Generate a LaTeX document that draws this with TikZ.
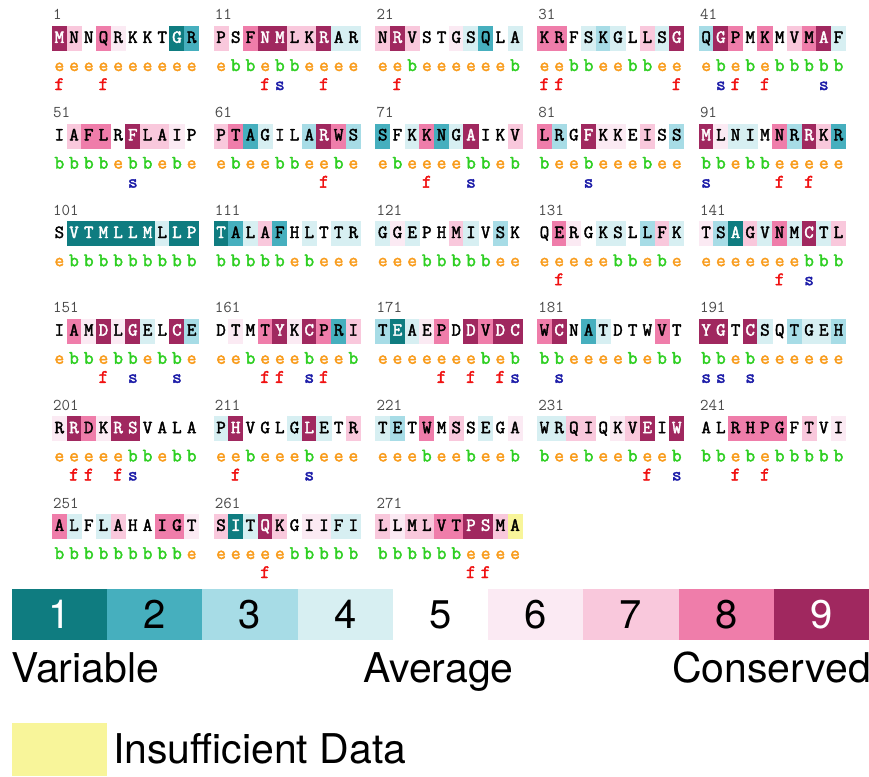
\documentclass[tikz,border=0pt]{standalone}
\usepackage{fontspec}
\usepackage{graphicx}
\newfontfamily\legendfont{TeX Gyre Heros}
\newfontfamily\seqfont{Latin Modern Mono}[FakeBold=2.2]
\newfontfamily\numfont{Latin Modern Mono}

% conservation grades (1 = variable ... 9 = conserved), 0 = insufficient data
\definecolor{g0}{HTML}{F8F59A}
\definecolor{g1}{HTML}{0F7C80}
\definecolor{g2}{HTML}{46AFBE}
\definecolor{g3}{HTML}{A7DCE6}
\definecolor{g4}{HTML}{D7EFF2}
\definecolor{g5}{HTML}{FFFFFF}
\definecolor{g6}{HTML}{FBEAF3}
\definecolor{g7}{HTML}{F9C8DC}
\definecolor{g8}{HTML}{EF7DAA}
\definecolor{g9}{HTML}{A0285F}
\definecolor{sse}{HTML}{F99C1C}
\definecolor{ssb}{HTML}{2ECF22}
\definecolor{fcol}{HTML}{F01010}
\definecolor{scol}{HTML}{1C1CA8}
\definecolor{numgray}{HTML}{4A4A4A}

\tikzset{
  resletter/.style={font=\seqfont\fontsize{18.5}{18.5}\selectfont, inner sep=0pt, anchor=base},
  ssletter/.style={font=\seqfont\fontsize{19}{19}\selectfont, inner sep=0pt, anchor=base},
  fsletter/.style={font=\seqfont\fontsize{19}{19}\selectfont, inner sep=0pt, anchor=base},
  blocknum/.style={font=\numfont\fontsize{16.5}{16.5}\selectfont, text=numgray, inner sep=0pt, anchor=base west},
  legendtext/.style={font=\legendfont\fontsize{41}{41}\selectfont, inner sep=0pt},
  legenddigit/.style={font=\legendfont\fontsize{40}{40}\selectfont, inner sep=0pt, anchor=base},
}

% split the first character off a string macro
\newcount\rj
\def\peel#1#2\stop{\def\firstc{#1}\def\restc{#2}}
\def\takechar#1#2{\expandafter\peel#1\stop\let#2\firstc\let#1\restc}

% one residue: grade box, letter, exposure letter, function/structure mark
\def\drawres{%
  \if\cB5\else
    \fill[g\cB] (\rx-0.2,\by) rectangle (\rx+14.9,\by+25);%
  \fi
  \if\cB9\def\tc{white}\else\if\cB1\def\tc{white}\else\def\tc{black}\fi\fi
  \node[resletter,text=\tc] (r\rn) at (\rx+7.35,\by+16.8) {\cA};%
  \if\cC e\def\ec{sse}\else\def\ec{ssb}\fi
  \node[ssletter,text=\ec] (s\rn) at (\rx+7.35,\by+45) {\cC};%
  \if\cD f\node[fsletter,text=fcol] (f\rn) at (\rx+7.35,\by+64) {f};\fi
  \if\cD s\node[fsletter,text=scol] (f\rn) at (\rx+7.35,\by+64) {s};\fi
}

% a block of ten residues: column, row, first number, residues, grades, exposure, marks
\def\seqblock#1#2#3#4#5#6#7{%
  \def\sA{#4}\def\sB{#5}\def\sC{#6}\def\sD{#7}%
  \pgfmathsetmacro\bx{52+161.7*#1}%
  \pgfmathsetmacro\by{26+97.6*#2}%
  \node[blocknum] (n#3) at (\bx+1,\by-6) {#3};%
  \rj=0
  \loop
    \takechar\sA\cA\takechar\sB\cB\takechar\sC\cC\takechar\sD\cD
    \pgfmathsetmacro\rx{\bx+14.7*\the\rj}%
    \pgfmathtruncatemacro\rn{#3+\the\rj}%
    \drawres
    \advance\rj by 1
  \ifnum\rj<10 \repeat
}

\begin{document}
\begin{tikzpicture}[x=1pt,y=-1pt]
\useasboundingbox (0,0) rectangle (869,776);
\fill[white] (0,0) rectangle (869,776);

\seqblock{0}{0}{1}{MNNQRKKTGR}{9758655512}{eeeeeeeeee}{f..f......}
\seqblock{1}{0}{11}{PSFNMLKRAR}{7589977944}{ebbebbeeee}{...fs..f..}
\seqblock{2}{0}{21}{NRVSTGSQLA}{7975564254}{eebeeeeeeb}{.f........}
\seqblock{3}{0}{31}{KRFSKGLLSG}{8854345749}{eebbeebbee}{ff.......f}
\seqblock{4}{0}{41}{QGPMKMVMAF}{3985857894}{ebebebbbbb}{.sf.f...s.}

\seqblock{0}{1}{51}{IAFLRFLAIP}{5788597765}{bbbbebbebe}{.....s....}
\seqblock{1}{1}{61}{PTAGILARWS}{7824553983}{ebeebbeebe}{.......f..}
\seqblock{2}{1}{71}{SFKKNGAIKV}{2548249557}{ebeeeebbeb}{...f..s...}
\seqblock{3}{1}{81}{LRGFKKEISS}{8359665753}{beebeeebee}{...s......}
\seqblock{4}{1}{91}{MLNIMNRRKR}{9644583972}{bbebbeeeee}{s....f.f..}

\seqblock{0}{2}{101}{SVTMLLMLLP}{5111111411}{ebbbbbbbbb}{..........}
\seqblock{1}{2}{111}{TALAFHLTTR}{1247254544}{bbbbbebeee}{..........}
\seqblock{2}{2}{121}{GGEPHMIVSK}{4645574535}{eeebbbbbee}{..........}
\seqblock{3}{2}{131}{QERGKSLLFK}{5865445374}{eeeeebbebe}{.f........}
\seqblock{4}{2}{141}{TSAGVNMCTL}{6317484947}{eeeeeeebbb}{.....f.s..}

\seqblock{0}{3}{151}{IAMDLGELCE}{5869694593}{ebbebbebbe}{...f.s..s.}
\seqblock{1}{3}{161}{DTMTYKCPRI}{5658969827}{eebeeebeeb}{...ff.sf..}
\seqblock{2}{3}{171}{TEAEPDDVDC}{3146859899}{eeeeeeebeb}{....f.f.fs}
\seqblock{3}{3}{181}{WCNATDTWVT}{8952455585}{bbeeeebebb}{.s........}
\seqblock{4}{3}{191}{YGTCSQTGEH}{9959453443}{bbebeeeeee}{ss.s......}

\seqblock{0}{4}{201}{RRDKRSVALA}{6986995555}{eeeeebbebb}{.ff.fs....}
\seqblock{1}{4}{211}{PHVGLGLETR}{4955549457}{eebeeebeee}{.f....s...}
\seqblock{2}{4}{221}{TETWMSSEGA}{4358575456}{eeebeebeeb}{..........}
\seqblock{3}{4}{231}{WRQIQKVEIW}{4477567959}{beebeebeeb}{.......f.s}
\seqblock{4}{4}{241}{ALRHPGFTVI}{5588885756}{bbebebbbbb}{..f.f.....}

\seqblock{0}{5}{251}{ALFLAHAIGT}{8454755886}{bbbbbbbbbe}{..........}
\seqblock{1}{5}{261}{SITQKGIIFI}{7149756644}{eeeeebbbbb}{...f......}
\seqblock{2}{5}{271}{LLMLVTPSMA}{7677889970}{bbbbbbeeee}{......ff..}

% colour scale
\foreach \g/\tcol [count=\k from 0] in {1/white,2/black,3/black,4/black,5/black,6/black,7/black,8/black,9/white}{
  \fill[g\g] (12+95.22*\k,589) rectangle (12+95.22*\k+95.6,640);
  \node[legenddigit,text=\tcol] (lg\g) at (12+95.22*\k+47.6,628) {\g};
}
\node[legendtext,anchor=base west] (lvar) at (11,682) {Variable};
\node[legendtext,anchor=base west] (lavg) at (363,682) {Average};
\node[legendtext,anchor=base east] (lcons) at (871,682) {Conserved};

\fill[g0] (12,723) rectangle (107,776);
\node[legendtext,anchor=base west] (lins) at (113,763) {Insufficient Data};
\end{tikzpicture}
\end{document}
